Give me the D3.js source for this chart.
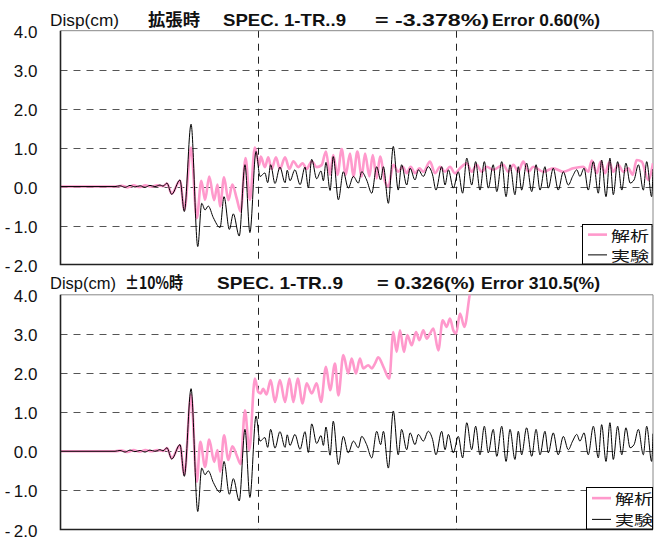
<!DOCTYPE html>
<html><head><meta charset="utf-8">
<script src="https://cdn.jsdelivr.net/npm/d3@7"></script>
<style>body{margin:0;background:#fff}svg{display:block}</style>
</head><body><svg id="c" width="661" height="547"></svg>
<script>
// ---- data ----
const yTicks = [-2, -1, 0, 1, 2, 3, 4];
const xGridTimes = [10, 20];
const legendLabels = ["解析", "実験"];
const titlesTop = ["Disp(cm)", "拡張時", "SPEC. 1-TR..9", "= -3.378%)", "Error 0.60(%)"];
const titlesBottom = ["Disp(cm)", "±10%時", "SPEC. 1-TR..9", "= 0.326(%)", "Error 310.5(%)"];

// experiment (実験) : [time s, disp cm]
const experiment = [
 [0,0],[2.76,0],[3.01,0.02],[3.27,-0.02],[3.52,0.03],[3.77,-0.01],[4.03,0.02],[4.28,-0.02],[4.53,0.03],[4.78,0],[5.04,0.04],[5.19,0.01],
 [5.39,0.09],[5.63,-0.2],[6.05,0.17],[6.27,-0.64],[6.61,1.6],[6.95,-1.54],[7.15,-0.43],[7.32,-0.6],[7.48,-0.5],[7.74,-0.8],
 [8.08,-1.05],[8.28,-0.26],[8.55,-1.1],[8.75,-0.7],[9.05,-1.27],[9.34,0.56],[9.59,-1.18],[9.9,0.9],[10.1,0.26],[10.35,0.35],
 [10.49,0.1],[10.64,0.56],[10.86,0.08],[11.11,0.5],[11.37,0.1],[11.48,0.42],[11.62,0.15],[11.87,0.43],[12.13,0.05],[12.38,0.5],
 [12.55,-0.03],[12.72,0.7],[12.97,0.2],[13.19,0.4],[13.31,0.15],[13.44,0.62],[13.65,-0.1],[13.81,0.77],[14.07,-0.34],[14.32,0.38],
 [14.57,-0.04],[14.83,0.26],[15.08,0.09],[15.25,0.38],[15.5,0.17],[15.76,-0.17],[16.01,0.51],[16.21,0.17],[16.35,0.51],[16.6,-0.43],
 [16.85,1.03],[17.1,-0.09],[17.27,0.56],[17.53,0.04],[17.7,0.47],[17.95,0.17],[18.12,0.43],[18.37,0.26],[18.62,0.51],[18.84,0.3],
 [19.01,-0.09],[19.3,0.51],[19.47,0.04],[19.64,0.43],[19.89,-0.04],[20.14,0.38],[20.36,-0.17],[20.57,0.73],[20.82,0.04],[21.02,0.64],
 [21.24,-0.09],[21.46,0.64],[21.66,-0.04],[21.91,0.56],[22.09,-0.13],[22.34,0.64],[22.56,-0.26],[22.76,0.56],[23.01,-0.21],[23.18,0.51],
 [23.35,-0.09],[23.6,0.6],[23.86,-0.13],[24.08,0.56],[24.28,-0.09],[24.53,0.51],[24.7,-0.04],[24.95,0.47],[25.2,-0.09],[25.46,0.38],
 [25.71,0.04],[25.93,0.26],[26.14,0.43],[26.3,0.26],[26.51,0.47],[26.72,-0.09],[26.98,0.64],[27.23,-0.17],[27.4,0.68],[27.62,-0.26],
 [27.82,0.73],[27.99,-0.21],[28.21,0.64],[28.42,-0.09],[28.63,0.6],[28.84,0.09],[29.04,0.17],[29.26,0.56],[29.51,-0.09],[29.68,0.64],
 [29.93,-0.26],[30,0.45]
];

// analysis (解析), 拡張時
const analysisTop = [
 [0,0],[2.76,0],[3.1,0.02],[3.4,-0.02],[3.7,0.03],[4.0,-0.01],[4.3,0.03],[4.6,0],[4.9,0.03],[5.2,0.01],
 [5.39,0.08],[5.63,-0.18],[6.05,0.15],[6.27,-0.6],[6.61,1.0],[6.9,-0.81],[7.13,0.15],[7.32,-0.34],[7.53,0.26],[7.78,-0.35],
 [7.95,0.05],[8.08,-0.51],[8.28,0.24],[8.5,-0.35],[8.7,0.05],[8.92,-0.3],[9.12,-0.64],[9.37,0.73],[9.59,-0.34],[9.84,1.0],
 [10.06,0.55],[10.14,0.77],[10.35,0.5],[10.52,0.75],[10.69,0.45],[10.91,0.75],[11.11,0.45],[11.37,0.75],[11.59,0.45],[11.79,0.65],
 [12.04,0.5],[12.26,0.6],[12.46,0.45],[12.72,0.65],[12.97,0.5],[13.22,0.55],[13.44,0.9],[13.65,0.3],[13.81,0.81],[14.02,0.3],
 [14.24,0.96],[14.44,0.3],[14.66,0.85],[14.83,0.26],[15.03,0.9],[15.25,0.26],[15.42,0.85],[15.64,0.26],[15.81,0.81],[16.01,0.21],
 [16.18,0.77],[16.43,0.13],[16.6,0.0],[16.85,0.56],[17.1,0.38],[17.33,0.51],[17.53,0.34],[17.73,0.51],[17.95,0.34],[18.17,0.47],
 [18.37,0.38],[18.71,0.64],[18.96,0.34],[19.22,0.51],[19.47,0.38],[19.72,0.51],[19.97,0.34],[20.23,0.47],[20.57,0.6],[20.82,0.38],
 [21.07,0.56],[21.33,0.38],[21.58,0.51],[21.91,0.43],[22.42,0.56],[22.67,0.38],[22.93,0.56],[23.18,0.38],[23.43,0.64],[23.69,0.38],
 [23.94,0.51],[24.45,0.38],[24.95,0.47],[25.46,0.38],[25.96,0.47],[26.47,0.51],[26.72,0.38],[26.9,0.67],[27.15,0.34],[27.35,0.64],
 [27.57,0.34],[27.79,0.62],[27.99,0.38],[28.24,0.56],[28.5,0.38],[28.75,0.47],[28.97,0.3],[29.17,0.68],[29.43,0.64],[29.76,0.17],
 [30,0.6]
];

// analysis (解析), ±10%時
const analysisBottom = [
 [0,0],[2.76,0],[3.1,0.02],[3.4,-0.02],[3.7,0.03],[4.0,-0.01],[4.3,0.03],[4.6,0],[4.9,0.03],[5.2,0.01],
 [5.39,0.08],[5.63,-0.18],[6.05,0.15],[6.27,-0.6],[6.61,1.45],[6.9,-0.78],[7.08,0.24],[7.32,-0.4],[7.53,0.3],[7.78,-0.27],
 [7.95,0.03],[8.08,-0.52],[8.28,0.41],[8.5,-0.22],[8.7,0.13],[8.92,-0.1],[9.12,-0.33],[9.34,1.05],[9.56,0.03],[9.84,1.86],
 [10.01,1.52],[10.14,1.48],[10.26,1.6],[10.43,1.45],[10.64,1.82],[10.86,1.26],[11.11,1.82],[11.37,1.26],[11.59,1.86],[11.79,1.26],
 [12.01,1.86],[12.26,1.22],[12.46,1.74],[12.72,1.48],[12.97,1.74],[13.19,1.26],[13.44,2.16],[13.65,1.56],[13.9,2.24],[14.07,1.43],
 [14.32,2.46],[14.57,1.99],[14.74,2.37],[14.96,1.99],[15.16,2.37],[15.33,2.12],[15.58,2.2],[15.76,2.12],[15.92,2.24],[16.09,2.4],
 [16.35,2.16],[16.65,1.86],[16.85,3.05],[17.02,2.54],[17.19,3.09],[17.39,2.54],[17.56,2.97],[17.78,2.71],[18.0,3.05],[18.17,2.84],
 [18.37,3.09],[18.54,2.88],[18.71,3.01],[18.88,3.14],[19.13,2.58],[19.35,3.35],[19.55,3.18],[19.72,3.39],[19.89,3.09],[20.03,3.01],
 [20.23,3.52],[20.45,3.18],[20.73,4.03],[21.0,4.6]
];

// ---- drawing ----
const svg = d3.select("#c");
const x = d3.scaleLinear().domain([0, 30]).range([60.5, 653]);
const fontLatin = "'Liberation Sans', Arial, 'Noto Sans CJK JP', sans-serif";
const fontCJK = "'Noto Sans CJK JP', 'Liberation Sans', sans-serif";

const panels = [
  { titles: titlesTop, analysis: analysisTop, top: 30.7, bottom: 264.5, base: 26,
    tx: [50, 148, 223, 375, 492], tw: [69, 52, 123, 114, 108],
    legend: { x0: 582, y0: 224, x1: 652.5, y1: 264.5 } },
  { titles: titlesBottom, analysis: analysisBottom, top: 294.8, bottom: 529.5, base: 289,
    tx: [50, 125, 217, 377, 481], tw: [66, 58, 126, 98, 119],
    legend: { x0: 586, y0: 487, x1: 653, y1: 529.5 } }
];

panels.forEach((p, i) => {
  const y = d3.scaleLinear().domain([-2, 4]).range([p.bottom, p.top]);
  const g = svg.append("g");

  svg.append("clipPath").attr("id", "clip" + i).append("rect")
    .attr("x", x(0)).attr("y", y(4)).attr("width", x(30) - x(0)).attr("height", y(-2) - y(4));

  g.selectAll(".hg").data(yTicks.filter(d => d > -2 && d < 4)).join("line")
    .attr("x1", x(0)).attr("x2", x(30))
    .attr("y1", d => Math.round(y(d)) + 0.5).attr("y2", d => Math.round(y(d)) + 0.5)
    .attr("stroke", "#555").attr("stroke-width", 1).attr("stroke-dasharray", "7,6");

  g.selectAll(".vg").data(xGridTimes).join("line")
    .attr("x1", d => Math.round(x(d)) + 0.5).attr("x2", d => Math.round(x(d)) + 0.5)
    .attr("y1", y(4)).attr("y2", y(-2))
    .attr("stroke", "#222").attr("stroke-width", 1).attr("stroke-dasharray", "7,6");

  g.append("path")
    .attr("d", `M${x(0)},${y(4)}H${x(30)}V${y(-2)}`)
    .attr("fill", "none").attr("stroke", "#888").attr("stroke-width", 1);

  const line = d3.line().x(d => x(d[0])).y(d => y(d[1])).curve(d3.curveMonotoneX);
  const lines = g.append("g").attr("clip-path", `url(#clip${i})`);
  lines.append("path").datum(p.analysis).attr("d", line)
    .attr("fill", "none").attr("stroke", "#ff99cc").attr("stroke-width", 2.6).attr("stroke-linejoin", "round");
  lines.append("path").datum(experiment).attr("d", line)
    .attr("fill", "none").attr("stroke", "#000").attr("stroke-width", 1).attr("stroke-linejoin", "round");

  g.append("path")
    .attr("d", `M${x(0)},${y(4)}V${y(-2)}H${x(30)}`)
    .attr("fill", "none").attr("stroke", "#222").attr("stroke-width", 1.6);

  g.selectAll(".tl").data(yTicks).join("text")
    .attr("x", 37.5).attr("y", d => y(d) + 1.5)
    .attr("text-anchor", "end").attr("dominant-baseline", "central")
    .attr("font-family", fontLatin).attr("font-size", 17).attr("fill", "#111")
    .text(d => d < 0 ? "-\u2009" + Math.abs(d).toFixed(1) : d.toFixed(1));

  p.titles.forEach((t, k) => {
    g.append("text").attr("x", p.tx[k]).attr("y", p.base)
      .attr("font-family", /[\u3000-\u9fff]/.test(t) ? fontCJK : fontLatin)
      .attr("font-size", 17).attr("font-weight", k === 0 ? "normal" : "bold")
      .attr("fill", "#111")
      .attr("textLength", p.tw[k]).attr("lengthAdjust", "spacingAndGlyphs")
      .text(t);
  });

  const L = p.legend;
  g.append("rect").attr("x", L.x0 + 0.5).attr("y", L.y0 + 0.5)
    .attr("width", L.x1 - L.x0 - 1).attr("height", L.y1 - L.y0 - 1)
    .attr("fill", "#fff").attr("stroke", "#000").attr("stroke-width", 1);
  const rowH = (L.y1 - L.y0) / 2;
  legendLabels.forEach((lab, k) => {
    const cy = L.y0 + rowH * (k + 0.5) + 0.5;
    g.append("line").attr("x1", L.x0 + 6).attr("x2", L.x0 + 25).attr("y1", cy).attr("y2", cy)
      .attr("stroke", k === 0 ? "#ff99cc" : "#000").attr("stroke-width", k === 0 ? 2.6 : 1);
    g.append("text").attr("x", L.x0 + 29).attr("y", cy)
      .attr("dominant-baseline", "central")
      .attr("font-family", fontCJK).attr("font-size", 13.5).attr("fill", "#111")
      .attr("textLength", 38).attr("lengthAdjust", "spacingAndGlyphs")
      .text(lab);
  });
});
</script></body></html>
